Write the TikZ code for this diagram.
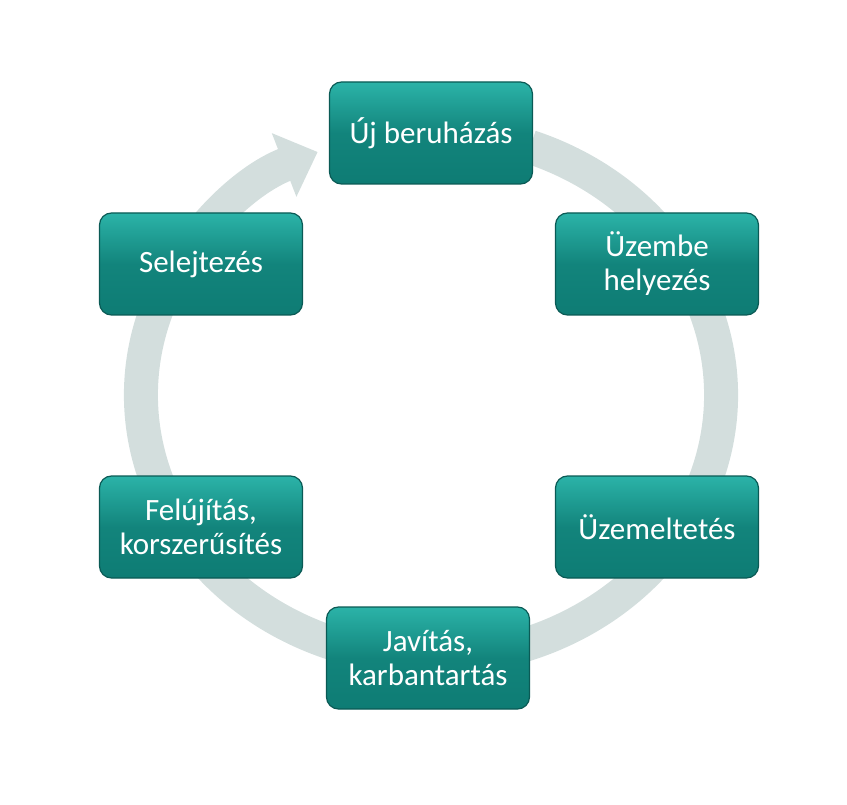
\documentclass[tikz,border=0pt]{standalone}
\usepackage{fontspec}
\setmainfont{Carlito}
\usetikzlibrary{arrows.meta}
\definecolor{ring}{HTML}{D3DEDD}
\definecolor{tealA}{HTML}{2BB3A8}
\definecolor{tealB}{HTML}{0E7C74}
\definecolor{tealC}{HTML}{0A5A55}
\tikzset{
 box/.style={rounded corners=12pt, minimum width=203pt, minimum height=102pt,
   draw=tealC, line width=1.2pt, top color=tealA, bottom color=tealB, middle color=tealB!85!tealA,
   text=white, align=center, font=\fontsize{31}{34}\selectfont, inner sep=2pt}
}
\begin{document}
\begin{tikzpicture}[x=1pt,y=-1pt]
\useasboundingbox (0,0) rectangle (847,805);
\draw[line width=34pt, ring, -{Triangle[length=36pt,width=66pt]}]
  (431,395) ++(-70:290 and 264) arc[start angle=-70, end angle=247, x radius=290, y radius=264];
\node[box] (a) at (431,133) {Új beruházás};
\node[box] (b) at (657,264) {Üzembe\\helyezés};
\node[box] (c) at (657,527) {Üzemeltetés};
\node[box] (d) at (428,658) {Javítás,\\karbantartás};
\node[box] (e) at (201,527) {Felújítás,\\korszerűsítés};
\node[box] (f) at (201,264) {Selejtezés};
\end{tikzpicture}
\end{document}
